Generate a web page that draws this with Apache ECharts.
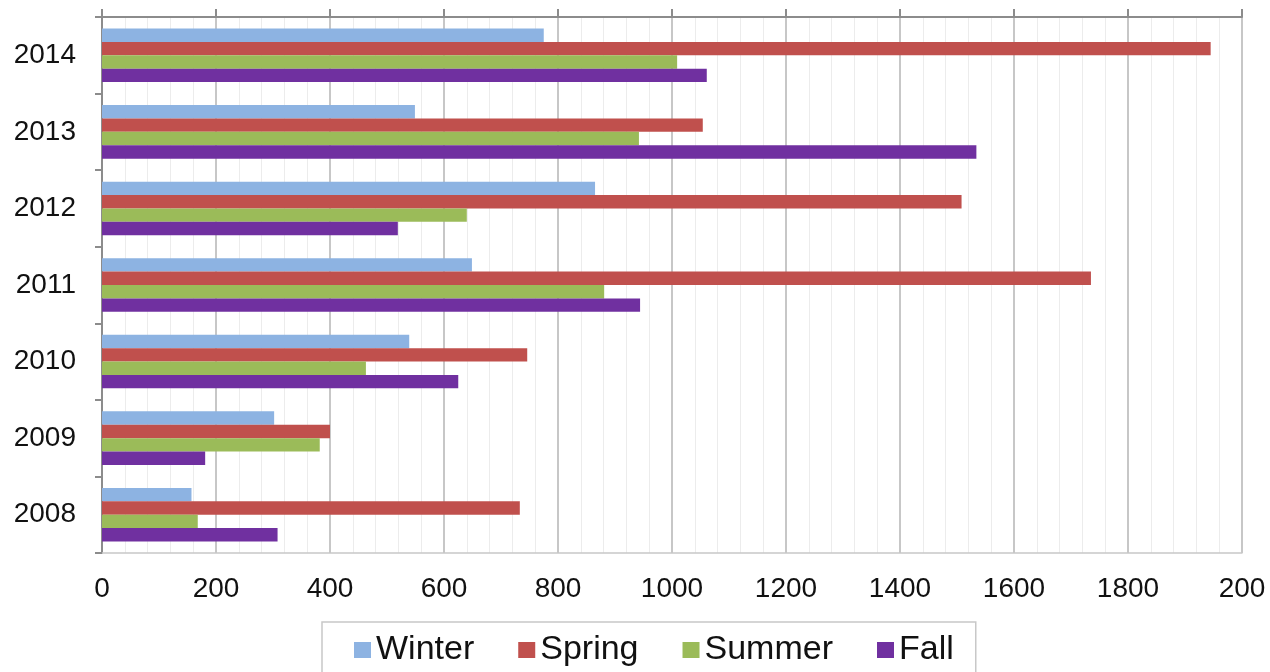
<!DOCTYPE html>
<html>
<head>
<meta charset="utf-8">
<style>
    html, body { margin: 0; padding: 0; background: #fff; }
    #bar-chart { width: 1270px; height: 672px; }
</style>
<script src="https://cdn.jsdelivr.net/npm/echarts@6/dist/echarts.min.js"></script>
</head>
<body>
<div id="bar-chart"></div>
<script>
    // years, top to bottom as drawn
    var years = ['2014', '2013', '2012', '2011', '2010', '2009', '2008'];
    var winter = [775, 549, 865, 649, 539, 302, 157];
    var spring = [1945, 1054, 1508, 1735, 746, 400, 733];
    var summer = [1009, 942, 640, 881, 463, 382, 168];
    var fall = [1061, 1534, 519, 944, 625, 181, 308];
    // the last label is cut short in the picture
    var xTickLabels = ['0', '200', '400', '600', '800', '1000', '1200', '1400', '1600', '1800', '200'];

    var font = "'Liberation Sans', Arial, sans-serif";

    function bar(name, data, color) {
        return {
            name: name,
            type: 'bar',
            data: data,
            barGap: 0,
            barCategoryGap: '30%',
            itemStyle: { color: color }
        };
    }

    var myChart = echarts.init(document.getElementById('bar-chart'));
    var options = {
        animation: false,
        textStyle: { fontFamily: font },
        grid: { left: 102, right: 28, top: 17, bottom: 119 },
        legend: {
            data: ['Winter', 'Spring', 'Summer', 'Fall'],
            left: 322,
            top: 622,
            padding: [11, 22, 30, 32],
            borderColor: '#c8c8c8',
            borderWidth: 1.5,
            itemWidth: 17,
            itemHeight: 16,
            itemGap: 44,
            icon: 'rect',
            textStyle: { fontSize: 34, color: '#111', fontFamily: font }
        },
        xAxis: [{
            type: 'value',
            position: 'bottom',
            min: 0,
            max: 2000,
            interval: 200,
            axisLine: { show: true, lineStyle: { color: '#c8c8c8', width: 1.5 } },
            axisTick: { show: false },
            axisLabel: {
                fontSize: 28,
                color: '#111',
                margin: 22,
                formatter: function (v) { return xTickLabels[Math.round(v / 200)]; }
            },
            splitLine: { show: true, lineStyle: { color: '#b4b4b4', width: 1.5 } },
            minorTick: { show: false, splitNumber: 5 },
            minorSplitLine: { show: true, lineStyle: { color: '#ececec', width: 1 } }
        }, {
            type: 'value',
            position: 'top',
            min: 0,
            max: 2000,
            interval: 200,
            axisLine: { show: true, lineStyle: { color: '#8c8c8c', width: 2 } },
            axisTick: { show: true, inside: false, length: 8, lineStyle: { color: '#8c8c8c', width: 2 } },
            axisLabel: { show: false },
            splitLine: { show: false }
        }],
        yAxis: {
            type: 'category',
            data: years,
            inverse: true,
            axisLine: { show: true, lineStyle: { color: '#8c8c8c', width: 2 } },
            axisTick: { show: true, length: 7, lineStyle: { color: '#8c8c8c', width: 2 } },
            axisLabel: { fontSize: 28, color: '#111', margin: 26 }
        },
        series: [
            bar('Winter', winter, '#8db3e2'),
            bar('Spring', spring, '#c0504d'),
            bar('Summer', summer, '#9bbb59'),
            bar('Fall', fall, '#7030a0')
        ]
    };
    myChart.setOption(options);
</script>
</body>
</html>
